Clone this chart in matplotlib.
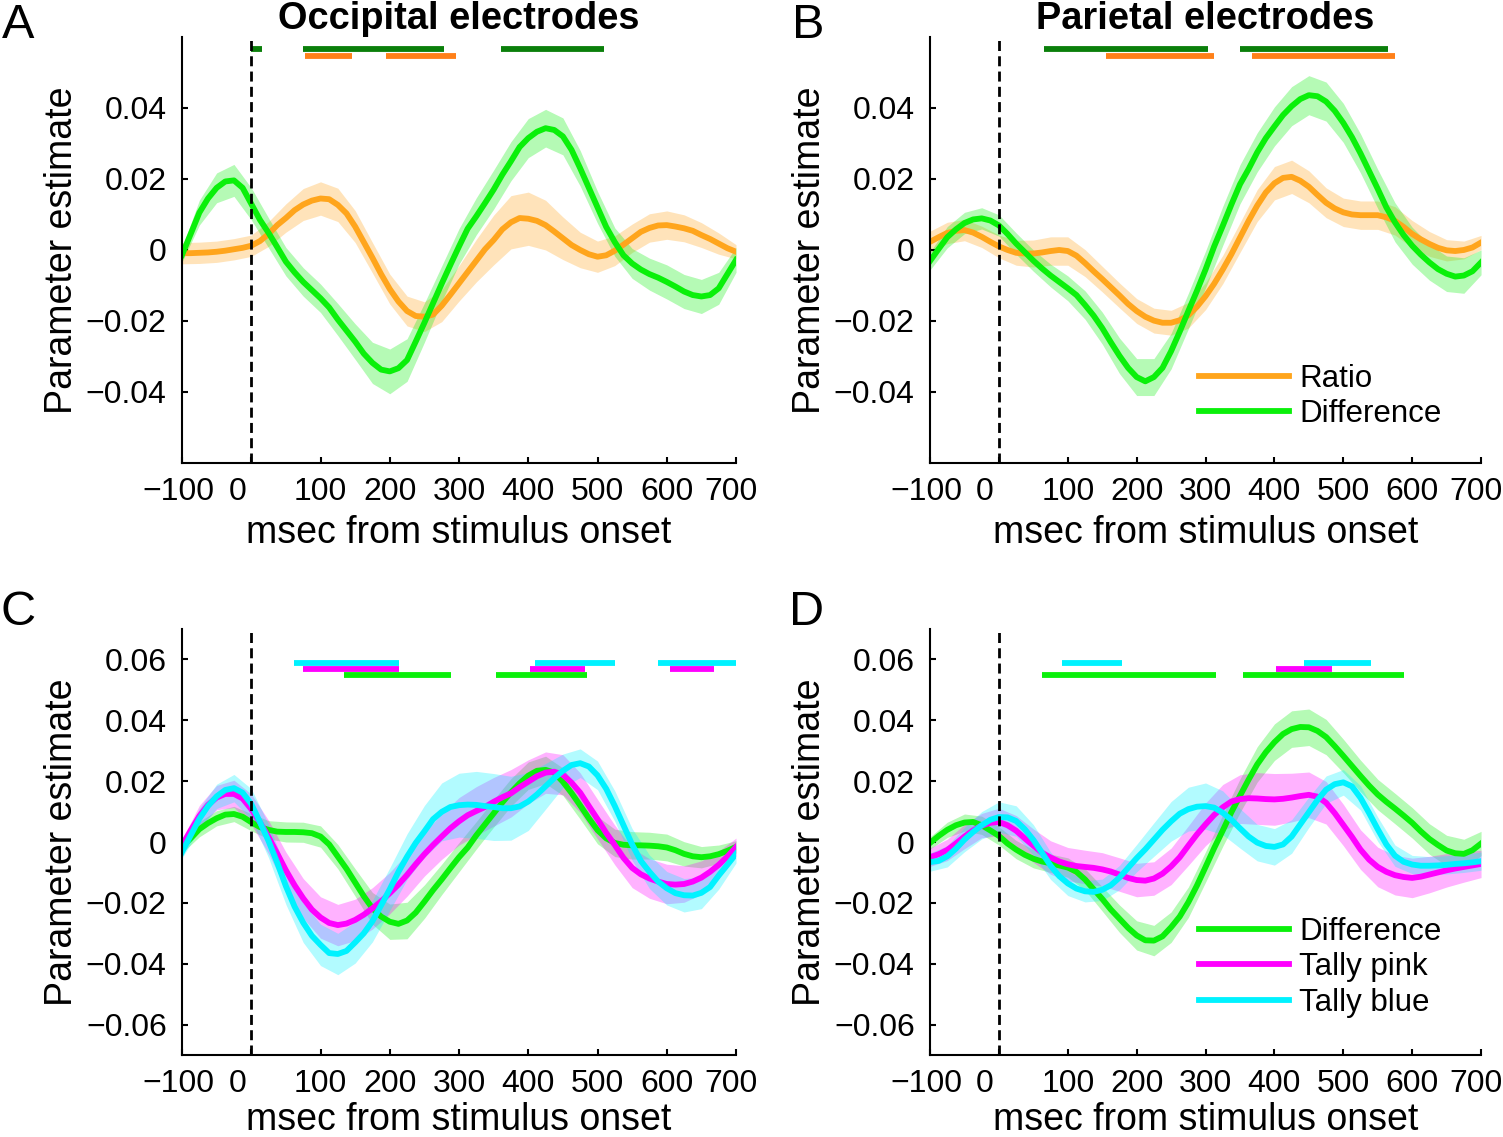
import numpy as np
import matplotlib.pyplot as plt
from matplotlib.transforms import ScaledTranslation

plt.rcParams['font.family'] = ['Liberation Sans', 'DejaVu Sans']

# time axis (ms); means every 12.5 ms, standard errors every 25 ms
t = np.arange(-100, 700.1, 12.5)
t_se = t[::2]

# Panel A - occipital electrodes
A_ratio = [-0.0009, -0.0009, -0.0008, -0.0007, -0.0005, -0.0002, 0.0002, 0.0006, 0.0012, 0.0025,
           0.0045, 0.007, 0.009, 0.0112, 0.0128, 0.0139, 0.0145, 0.0143, 0.0127, 0.0103,
           0.0066, 0.0022, -0.0022, -0.0068, -0.011, -0.0145, -0.0172, -0.0186, -0.0188, -0.0182,
           -0.0157, -0.0126, -0.0094, -0.0062, -0.003, 0.0002, 0.0028, 0.0058, 0.0078, 0.009,
           0.0088, 0.0082, 0.007, 0.0052, 0.0033, 0.0014, 0.0, -0.0012, -0.0019, -0.0015,
           -0.0002, 0.0015, 0.0033, 0.0051, 0.0062, 0.0069, 0.007, 0.0066, 0.0061, 0.0054,
           0.0042, 0.0031, 0.0018, 0.0005, -0.0005]
A_ratio_se = [0.003, 0.003, 0.003, 0.003, 0.003, 0.0035, 0.004, 0.0045, 0.0047, 0.0047, 0.0045,
              0.0043, 0.0042, 0.0042, 0.0042, 0.0045, 0.005, 0.006, 0.007, 0.0075, 0.0075, 0.007,
              0.006, 0.005, 0.0044, 0.0042, 0.004, 0.004, 0.004, 0.0038, 0.0035, 0.003, 0.002]
A_diff = [-0.0014, 0.0045, 0.0105, 0.0145, 0.0175, 0.0193, 0.0196, 0.0175, 0.013, 0.0085,
          0.0048, 0.0008, -0.0033, -0.0063, -0.009, -0.0113, -0.0136, -0.0162, -0.0196, -0.0227,
          -0.0258, -0.0292, -0.0318, -0.0337, -0.0342, -0.0333, -0.031, -0.0258, -0.0205, -0.015,
          -0.0095, -0.0042, 0.001, 0.006, 0.0095, 0.0132, 0.017, 0.0212, 0.025, 0.029,
          0.0315, 0.0333, 0.0343, 0.0338, 0.032, 0.0282, 0.023, 0.0175, 0.012, 0.0065,
          0.0022, -0.0015, -0.0038, -0.0055, -0.0068, -0.0078, -0.009, -0.0103, -0.0117, -0.0127,
          -0.0131, -0.0127, -0.0108, -0.0068, -0.0028]
A_diff_se = [0.002, 0.0035, 0.0042, 0.0045, 0.0045, 0.0042, 0.004, 0.004, 0.004, 0.0045, 0.005,
             0.0058, 0.0063, 0.006, 0.0055, 0.005, 0.005, 0.0052, 0.0055, 0.0055, 0.0055, 0.0053,
             0.0052, 0.005, 0.0045, 0.004, 0.0042, 0.0045, 0.0048, 0.0048, 0.0048, 0.0045, 0.0035]

# Panel B - parietal electrodes
B_ratio = [0.0023, 0.0036, 0.0048, 0.0054, 0.0056, 0.0049, 0.0037, 0.0023, 0.001, 0.0,
           -0.0008, -0.001, -0.001, -0.0007, -0.0003, 0.0, -0.0003, -0.0016, -0.0037, -0.006,
           -0.0082, -0.0105, -0.0128, -0.0152, -0.0172, -0.0188, -0.0199, -0.0205, -0.0205, -0.0198,
           -0.0184, -0.016, -0.013, -0.0095, -0.0055, -0.0012, 0.0035, 0.0082, 0.0125, 0.0162,
           0.0188, 0.0203, 0.0206, 0.0195, 0.0178, 0.0155, 0.0133, 0.0117, 0.0106, 0.01,
           0.0098, 0.0098, 0.0098, 0.0092, 0.0082, 0.0065, 0.0045, 0.003, 0.0017, 0.0006,
           -0.0001, -0.0003, 0.0, 0.0007, 0.0021]
B_ratio_se = [0.003, 0.003, 0.003, 0.003, 0.0032, 0.0035, 0.0038, 0.004, 0.004, 0.0038, 0.0036,
              0.0035, 0.0035, 0.0035, 0.0035, 0.0036, 0.0038, 0.004, 0.0042, 0.0045, 0.0047, 0.0047,
              0.0045, 0.0042, 0.004, 0.004, 0.004, 0.004, 0.0038, 0.0035, 0.003, 0.0025, 0.002]
B_diff = [-0.0031, 0.0003, 0.0036, 0.0058, 0.0076, 0.0086, 0.0089, 0.0083, 0.0069, 0.0045,
          0.0018, -0.0006, -0.003, -0.0052, -0.0072, -0.009, -0.0108, -0.0127, -0.0155, -0.0185,
          -0.022, -0.026, -0.0298, -0.0332, -0.0358, -0.037, -0.0358, -0.0332, -0.0285, -0.023,
          -0.0172, -0.0115, -0.0055, 0.001, 0.0068, 0.0128, 0.0185, 0.0228, 0.0275, 0.0315,
          0.0348, 0.038, 0.0405, 0.0425, 0.0436, 0.0433, 0.0418, 0.0392, 0.0358, 0.0318,
          0.0272, 0.0222, 0.0172, 0.012, 0.0078, 0.0042, 0.0012, -0.0013, -0.0035, -0.0054,
          -0.0067, -0.0075, -0.0072, -0.006, -0.0035]
B_diff_se = [0.0025, 0.003, 0.003, 0.003, 0.003, 0.003, 0.003, 0.0032, 0.0035, 0.004, 0.0045,
             0.005, 0.0052, 0.0052, 0.005, 0.005, 0.0052, 0.0055, 0.0055, 0.0055, 0.0055, 0.0055,
             0.0055, 0.0055, 0.0055, 0.0055, 0.0055, 0.0055, 0.0052, 0.005, 0.005, 0.005, 0.0035]

# Panel C - occipital electrodes, tally regressors
C_diff = [-0.0016, 0.0012, 0.0042, 0.0062, 0.0078, 0.009, 0.0092, 0.0083, 0.0065, 0.0049,
          0.004, 0.0034, 0.0033, 0.0033, 0.0032, 0.0029, 0.0018, -0.0008, -0.0048, -0.0088,
          -0.0133, -0.0178, -0.0218, -0.0245, -0.0262, -0.0269, -0.0258, -0.0232, -0.0196, -0.0158,
          -0.0123, -0.0086, -0.005, -0.0018, 0.0022, 0.0058, 0.0094, 0.013, 0.0163, 0.0193,
          0.0218, 0.0234, 0.0237, 0.0228, 0.0198, 0.0161, 0.012, 0.0078, 0.0039, 0.0012,
          -0.0003, -0.0009, -0.0011, -0.0011, -0.0012, -0.0014, -0.0018, -0.0027, -0.0039, -0.0047,
          -0.005, -0.0047, -0.004, -0.0029, -0.0016]
C_diff_se = [0.002, 0.0025, 0.0025, 0.0025, 0.0028, 0.003, 0.0033, 0.0033, 0.0035, 0.004, 0.0045,
             0.0052, 0.0058, 0.006, 0.0055, 0.005, 0.0048, 0.0045, 0.0045, 0.0045, 0.0045, 0.0045,
             0.0045, 0.0045, 0.0045, 0.0045, 0.0045, 0.0044, 0.0044, 0.004, 0.0035, 0.003, 0.002]
C_pink = [-0.0011, 0.0038, 0.0085, 0.0122, 0.0146, 0.0158, 0.0158, 0.0143, 0.0108, 0.0065,
          0.0016, -0.0038, -0.0093, -0.0142, -0.0185, -0.0222, -0.0248, -0.0266, -0.0273, -0.0268,
          -0.0256, -0.0239, -0.0218, -0.0195, -0.0168, -0.014, -0.0108, -0.0073, -0.004, -0.001,
          0.0018, 0.0045, 0.0068, 0.0088, 0.0102, 0.0115, 0.0132, 0.0147, 0.016, 0.018,
          0.0198, 0.0216, 0.0228, 0.0231, 0.0221, 0.0195, 0.0162, 0.0118, 0.0075, 0.003,
          -0.001, -0.0052, -0.0085, -0.0106, -0.012, -0.013, -0.0138, -0.014, -0.0138, -0.013,
          -0.0117, -0.0098, -0.0075, -0.0048, -0.0017]
C_pink_se = [0.002, 0.0035, 0.004, 0.0045, 0.005, 0.0055, 0.006, 0.0065, 0.0068, 0.0068, 0.0068,
             0.0068, 0.0068, 0.007, 0.0072, 0.0075, 0.0078, 0.008, 0.008, 0.0078, 0.0072, 0.0068,
             0.0066, 0.0065, 0.0065, 0.0065, 0.0065, 0.0065, 0.0065, 0.006, 0.0055, 0.0045, 0.003]
C_blue = [-0.0033, 0.0022, 0.0076, 0.0118, 0.015, 0.0171, 0.0177, 0.0162, 0.0125, 0.0066,
          0.0003, -0.0068, -0.0145, -0.0212, -0.0265, -0.0308, -0.0338, -0.0365, -0.0368, -0.0358,
          -0.033, -0.03, -0.026, -0.0208, -0.0155, -0.0098, -0.0048, -0.0003, 0.0035, 0.0075,
          0.0099, 0.0115, 0.0121, 0.0123, 0.0122, 0.0118, 0.0115, 0.0111, 0.0111, 0.0117,
          0.0133, 0.0156, 0.0183, 0.021, 0.0234, 0.0253, 0.0259, 0.0248, 0.0219, 0.0175,
          0.0118, 0.0055, -0.0008, -0.0062, -0.0098, -0.013, -0.0152, -0.0168, -0.0175, -0.0176,
          -0.0167, -0.0148, -0.011, -0.0075, -0.0039]
C_blue_se = [0.002, 0.0035, 0.004, 0.0045, 0.005, 0.0055, 0.006, 0.0065, 0.0068, 0.0068, 0.0068,
             0.0068, 0.007, 0.0075, 0.0085, 0.0095, 0.0105, 0.011, 0.011, 0.0105, 0.0095, 0.0075,
             0.0055, 0.0047, 0.0047, 0.005, 0.0052, 0.0055, 0.0055, 0.0055, 0.0052, 0.0045, 0.003]

# Panel D - parietal electrodes, tally regressors
D_diff = [-0.0003, 0.002, 0.004, 0.0055, 0.0064, 0.0066, 0.0055, 0.0038, 0.002, -0.0005,
          -0.0025, -0.0042, -0.0055, -0.0064, -0.007, -0.0077, -0.0084, -0.0098, -0.0123, -0.0155,
          -0.0187, -0.0222, -0.0252, -0.0282, -0.0307, -0.0323, -0.0324, -0.031, -0.028, -0.0245,
          -0.0198, -0.0143, -0.0082, -0.002, 0.0038, 0.0098, 0.0152, 0.0205, 0.0255, 0.0295,
          0.0328, 0.0355, 0.0371, 0.0378, 0.0377, 0.0365, 0.0345, 0.0315, 0.0283, 0.025,
          0.0217, 0.0185, 0.0156, 0.0132, 0.011, 0.0087, 0.0063, 0.0035, 0.001, -0.001,
          -0.0028, -0.0037, -0.0039, -0.0027, -0.0005]
D_diff_se = [0.002, 0.0025, 0.0028, 0.003, 0.003, 0.003, 0.003, 0.003, 0.0032, 0.0035, 0.004,
             0.0045, 0.0048, 0.005, 0.005, 0.005, 0.005, 0.0052, 0.0055, 0.0058, 0.006, 0.006,
             0.006, 0.0058, 0.0055, 0.0052, 0.005, 0.005, 0.005, 0.005, 0.005, 0.0048, 0.004]
D_pink = [-0.005, -0.004, -0.0026, -0.0005, 0.0018, 0.0038, 0.0054, 0.0063, 0.0066, 0.0055,
          0.0037, 0.0012, -0.0012, -0.0035, -0.0051, -0.0064, -0.0073, -0.0079, -0.0082, -0.0085,
          -0.009, -0.0097, -0.0107, -0.0118, -0.0125, -0.0127, -0.012, -0.0104, -0.008, -0.005,
          -0.0012, 0.0025, 0.0058, 0.0089, 0.0114, 0.0133, 0.0141, 0.0144, 0.0143, 0.0141,
          0.014, 0.0142, 0.0146, 0.0151, 0.0155, 0.0149, 0.0129, 0.0095, 0.0056, 0.0017,
          -0.0025, -0.0058, -0.0082, -0.0098, -0.0109, -0.0115, -0.0118, -0.0114, -0.0107, -0.01,
          -0.0093, -0.0087, -0.0082, -0.0077, -0.0072]
D_pink_se = [0.003, 0.0035, 0.004, 0.004, 0.0045, 0.005, 0.0055, 0.0055, 0.0055, 0.0055, 0.0055,
             0.0055, 0.0055, 0.0055, 0.006, 0.0065, 0.007, 0.0075, 0.008, 0.0085, 0.0085, 0.008,
             0.0075, 0.007, 0.0068, 0.0065, 0.0065, 0.0065, 0.0065, 0.006, 0.0055, 0.005, 0.0045]
D_blue = [-0.0066, -0.0062, -0.0047, -0.0022, 0.0008, 0.0033, 0.0055, 0.0073, 0.0082, 0.0081,
          0.0069, 0.0042, 0.0007, -0.0035, -0.0078, -0.0112, -0.0136, -0.0153, -0.0162, -0.0164,
          -0.0157, -0.0142, -0.0117, -0.0085, -0.0053, -0.0024, 0.0008, 0.004, 0.0068, 0.0093,
          0.0108, 0.0116, 0.0118, 0.0113, 0.0096, 0.0073, 0.0045, 0.0018, -0.0002, -0.0013,
          -0.0016, -0.0008, 0.0018, 0.0058, 0.0098, 0.0138, 0.0172, 0.019, 0.0196, 0.0183,
          0.0145, 0.0095, 0.0042, -0.0008, -0.0045, -0.0065, -0.0074, -0.0078, -0.0078, -0.0077,
          -0.0075, -0.0072, -0.007, -0.0067, -0.0063]
D_blue_se = [0.003, 0.0035, 0.004, 0.0045, 0.005, 0.005, 0.005, 0.0045, 0.004, 0.0035, 0.0035,
             0.004, 0.0045, 0.0055, 0.0065, 0.0072, 0.0076, 0.0072, 0.0065, 0.006, 0.006, 0.0055,
             0.005, 0.0045, 0.0042, 0.004, 0.004, 0.0035, 0.003, 0.003, 0.003, 0.003, 0.003]

# significance bars (start ms, end ms)
A_sig_diff = [(0, 16), (74, 278), (361, 510)]
A_sig_ratio = [(78, 145), (195, 295)]
B_sig_diff = [(66, 303), (350, 565)]
B_sig_ratio = [(155, 312), (367, 575)]
C_sig_blue = [(62, 214), (410, 525), (588, 700)]
C_sig_pink = [(75, 214), (402, 482), (605, 668)]
C_sig_diff = [(134, 289), (353, 485)]
D_sig_blue = [(92, 179), (443, 540)]
D_sig_pink = [(403, 483)]
D_sig_diff = [(62, 315), (355, 588)]

ORANGE = '#FFA51C'
GREEN = '#0AF00A'
PINK = '#FF00FF'
BLUE = '#00F2FF'
DKGREEN = '#0A7F0A'
DKORANGE = '#FF8019'

fig = plt.figure(figsize=(15.03, 11.37), dpi=100)


def shift_label(tick, dx_px):
    lbl = tick.label1
    lbl.set_transform(lbl.get_transform() + ScaledTranslation(dx_px / 100, 0, fig.dpi_scale_trans))


def panel(rect, series, bars, ylim, yticks, ylabels, xpad):
    ax = fig.add_axes(rect)
    for mean, se, col, lab in series:
        m = np.array(mean)[::2]
        s = np.array(se)
        ax.fill_between(t_se, m - s, m + s, color=col, alpha=0.3, lw=0)
    for mean, se, col, lab in series:
        ax.plot(t, mean, color=col, lw=4.2, label=lab)
    for spans, level, col in bars:
        for s0, s1 in spans:
            ax.plot([s0, s1], [level, level], color=col, lw=4.2, solid_capstyle='butt')
    ax.axvline(0, color='k', lw=2, ls=(0, (3.6, 1.9)))
    ax.set_xlim(-100, 700)
    ax.set_ylim(*ylim)
    ax.set_xticks(range(-100, 701, 100))
    ax.set_xticklabels(['\u2212100', '0', '100', '200', '300', '400', '500', '600', '700'])
    ax.set_yticks(yticks)
    ax.set_yticklabels(ylabels)
    for side in ['top', 'right']:
        ax.spines[side].set_visible(False)
    for side in ['left', 'bottom']:
        ax.spines[side].set_linewidth(1.5)
    ax.tick_params(direction='in', length=4.5, width=1.5, labelsize=23)
    ax.tick_params(axis='x', pad=10)
    ax.tick_params(axis='y', pad=11)
    ax.set_xlabel('msec from stimulus onset', fontsize=27, labelpad=xpad)
    ax.set_ylabel('Parameter estimate', fontsize=27, labelpad=4)
    ticks = ax.xaxis.get_major_ticks()
    shift_label(ticks[0], -4)
    shift_label(ticks[1], -14)
    shift_label(ticks[-1], -5)
    return ax


yt1 = [-0.04, -0.02, 0, 0.02, 0.04]
yl1 = ['\u22120.04', '\u22120.02', '0', '0.02', '0.04']
yt2 = [-0.06, -0.04, -0.02, 0, 0.02, 0.04, 0.06]
yl2 = ['\u22120.06', '\u22120.04', '\u22120.02', '0', '0.02', '0.04', '0.06']

axA = panel([0.1211, 0.5928, 0.3686, 0.3747],
            [(A_ratio, A_ratio_se, ORANGE, 'Ratio'), (A_diff, A_diff_se, GREEN, 'Difference')],
            [(A_sig_diff, 0.0565, DKGREEN), (A_sig_ratio, 0.0545, DKORANGE)],
            (-0.06, 0.06), yt1, yl1, 5.5)
axB = panel([0.6188, 0.5928, 0.3666, 0.3747],
            [(B_ratio, B_ratio_se, ORANGE, 'Ratio'), (B_diff, B_diff_se, GREEN, 'Difference')],
            [(B_sig_diff, 0.0565, DKGREEN), (B_sig_ratio, 0.0545, DKORANGE)],
            (-0.06, 0.06), yt1, yl1, 5.5)
axC = panel([0.1211, 0.0721, 0.3686, 0.3747],
            [(C_diff, C_diff_se, GREEN, 'Difference'), (C_pink, C_pink_se, PINK, 'Tally pink'),
             (C_blue, C_blue_se, BLUE, 'Tally blue')],
            [(C_sig_blue, 0.0588, BLUE), (C_sig_pink, 0.0568, PINK), (C_sig_diff, 0.0548, GREEN)],
            (-0.07, 0.07), yt2, yl2, 2)
axD = panel([0.6188, 0.0721, 0.3666, 0.3747],
            [(D_diff, D_diff_se, GREEN, 'Difference'), (D_pink, D_pink_se, PINK, 'Tally pink'),
             (D_blue, D_blue_se, BLUE, 'Tally blue')],
            [(D_sig_blue, 0.0588, BLUE), (D_sig_pink, 0.0568, PINK), (D_sig_diff, 0.0548, GREEN)],
            (-0.07, 0.07), yt2, yl2, 2)

for ax, ytop in [(axB, 0.233), (axD, 0.324)]:
    ax.legend(loc='upper left', bbox_to_anchor=(0.489, ytop), frameon=False, fontsize=22.5,
              handlelength=2.88, handletextpad=0.32, labelspacing=0.17, borderpad=0,
              borderaxespad=0)

fig.text(0.305, 0.9745, 'Occipital electrodes', ha='center', va='baseline',
         fontsize=27.4, fontweight='bold')
fig.text(0.8021, 0.9745, 'Parietal electrodes', ha='center', va='baseline',
         fontsize=27.4, fontweight='bold')

for x, y, s in [(0.001, 0.9666, 'A'), (0.527, 0.9666, 'B'), (0.0005, 0.4503, 'C'), (0.525, 0.4503, 'D')]:
    fig.text(x, y, s, ha='left', va='baseline', fontsize=35)

fig.savefig('out.png', dpi=100)
